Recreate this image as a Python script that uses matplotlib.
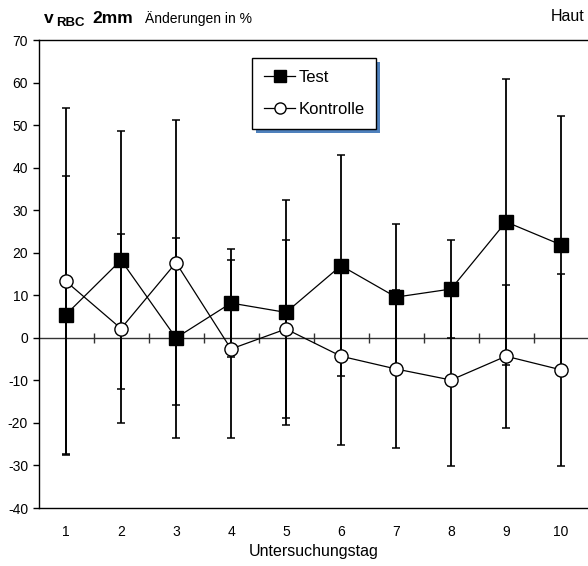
import numpy as np
import matplotlib
matplotlib.use("Agg")
import matplotlib.pyplot as plt
from matplotlib.patches import Rectangle
from matplotlib.transforms import IdentityTransform

plt.rcParams['font.family'] = ['Liberation Sans', 'DejaVu Sans']

days = [1, 2, 3, 4, 5, 6, 7, 8, 9, 10]
test_mean = [5.5, 18.3, 0.0, 8.2, 6.0, 17.0, 9.6, 11.5, 27.3, 21.9]
test_sd = [32.7, 30.3, 23.6, 12.8, 26.5, 26.0, 17.2, 11.5, 33.7, 30.4]
ctrl_mean = [13.3, 2.2, 17.7, -2.6, 2.1, -4.3, -7.3, -9.9, -4.3, -7.5]
ctrl_sd = [40.8, 22.3, 33.5, 21.0, 21.0, 20.8, 18.6, 20.3, 16.8, 22.6]
yticks = list(range(-40, 71, 10))

W, H = 588, 566
fig = plt.figure(figsize=(W / 100, H / 100), dpi=100)
ax = fig.add_axes([38.5 / W, 1 - 508 / H, (588.5 - 38.5) / W, (508 - 40.3) / H])

ax.set_xlim(0.5, len(days) + 0.5)
ax.set_ylim(-40, 70)

# error bars
ax.errorbar(days, test_mean, yerr=test_sd, fmt='none', ecolor='black',
            elinewidth=1.3, capsize=3, capthick=1.1, zorder=2)
ax.errorbar(days, ctrl_mean, yerr=ctrl_sd, fmt='none', ecolor='black',
            elinewidth=1.3, capsize=3, capthick=1.1, zorder=2)

# zero line with category boundary ticks
ax.axhline(0, color='#333333', lw=1.0, zorder=1)
bounds = np.arange(1.5, len(days), 1.0)
ax.plot(bounds, np.zeros_like(bounds), ls='none', marker='|', ms=7,
        mew=1.0, color='#333333', zorder=1)

l1, = ax.plot(days, test_mean, color='black', lw=0.9, marker='s', ms=10.5,
              mfc='black', mec='black', zorder=4, label='Test')
l2, = ax.plot(days, ctrl_mean, color='black', lw=0.9, marker='o', ms=9.5,
              mfc='white', mec='black', mew=1.0, zorder=5, label='Kontrolle')

ax.set_xticks(days)
ax.set_xticklabels([str(d) for d in days], fontsize=10)
ax.set_yticks(yticks)
ax.set_yticklabels([str(v) for v in yticks], fontsize=10)
ax.tick_params(axis='x', length=0, pad=12)
ax.tick_params(axis='y', direction='out', length=4.5, width=1, pad=3)
ax.set_xlabel('Untersuchungstag', fontsize=11.5, labelpad=4)

for s in ['left', 'top', 'bottom']:
    ax.spines[s].set_linewidth(1.0)
    ax.spines[s].set_color('black')
ax.spines['right'].set_visible(False)

leg = ax.legend(handles=[l1, l2], loc='upper left',
                bbox_to_anchor=((252 - 38.5) / 550, (508 - 58) / 467.7),
                borderaxespad=0, fontsize=12, frameon=True, fancybox=False,
                edgecolor='black', facecolor='white', framealpha=1.0,
                labelspacing=1.05, handlelength=1.9,
                handletextpad=0.2, borderpad=0.7)
leg.get_frame().set_linewidth(1.0)
leg.set_zorder(10)
for h in leg.legend_handles:
    h.set_markersize(8)

fig.canvas.draw()
bb = leg.get_window_extent()
shadow = Rectangle((bb.x0 + 4, bb.y0 - 4), bb.width, bb.height,
                   transform=IdentityTransform(), facecolor='#4f81bd',
                   edgecolor='none', zorder=9, clip_on=False)
ax.add_patch(shadow)

def px(x, y):
    return x / W, 1 - y / H

fig.text(*px(44, 23), 'v', fontsize=12.5, fontweight='bold', va='baseline')
fig.text(*px(56, 26), 'RBC', fontsize=9.5, fontweight='bold', va='baseline')
fig.text(*px(92, 23), '2mm', fontsize=12.5, fontweight='bold', va='baseline')
fig.text(*px(145, 23), 'Änderungen in %', fontsize=10, va='baseline')
fig.text(*px(584, 21), 'Haut', fontsize=11.5, va='baseline', ha='right')

fig.savefig('out.png', dpi=100)
